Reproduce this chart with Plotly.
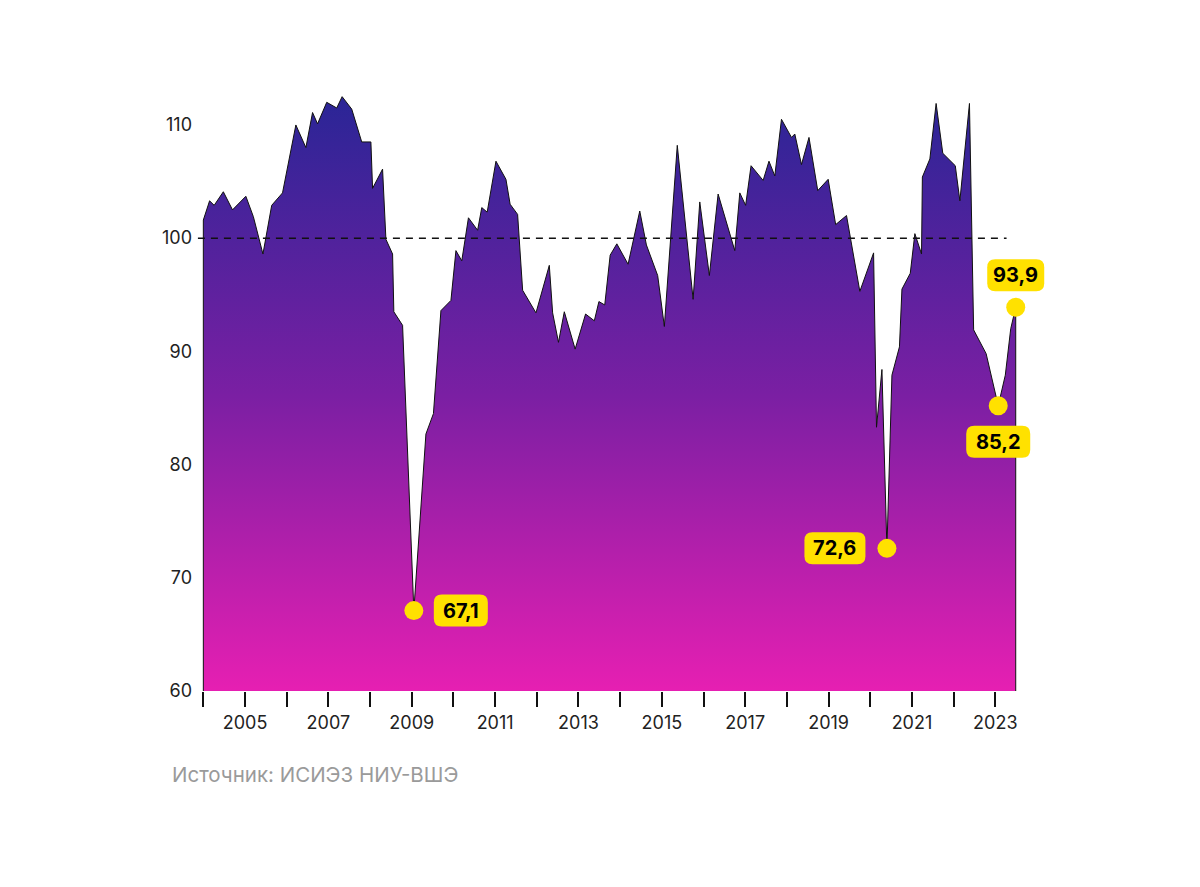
import plotly.graph_objects as go

# ---- data (decimal year, index value) ----
years = [2004.00, 2004.15, 2004.26, 2004.48, 2004.70, 2005.02, 2005.20, 2005.43, 2005.64, 2005.90,
         2006.22, 2006.46, 2006.62, 2006.74, 2006.96, 2007.20, 2007.33, 2007.56, 2007.80, 2008.02,
         2008.06, 2008.30, 2008.38, 2008.54, 2008.57, 2008.78, 2009.05, 2009.34, 2009.52, 2009.70,
         2009.94, 2010.06, 2010.20, 2010.36, 2010.58, 2010.68, 2010.81, 2011.02, 2011.26, 2011.36,
         2011.54, 2011.66, 2011.98, 2012.30, 2012.38, 2012.52, 2012.66, 2012.92, 2013.17, 2013.38,
         2013.49, 2013.63, 2013.76, 2013.92, 2014.19, 2014.47, 2014.63, 2014.90, 2015.06, 2015.37,
         2015.75, 2015.91, 2016.14, 2016.35, 2016.75, 2016.87, 2017.01, 2017.14, 2017.43, 2017.57,
         2017.71, 2017.87, 2018.11, 2018.19, 2018.35, 2018.53, 2018.74, 2018.99, 2019.17, 2019.43,
         2019.75, 2020.08, 2020.15, 2020.28, 2020.40, 2020.52, 2020.70, 2020.76, 2020.96, 2021.07,
         2021.23, 2021.25, 2021.43, 2021.58, 2021.74, 2022.04, 2022.15, 2022.38, 2022.48, 2022.78,
         2023.07, 2023.24, 2023.37, 2023.49]
values = [101.6, 103.3, 102.9, 104.1, 102.5, 103.7, 101.9, 98.6, 102.9, 104.0,
          110.0, 108.0, 111.1, 110.1, 112.0, 111.5, 112.5, 111.4, 108.5, 108.5,
          104.4, 106.1, 99.9, 98.6, 93.5, 92.3, 67.1, 82.7, 84.5, 93.6,
          94.5, 98.9, 98.0, 101.8, 100.7, 102.7, 102.3, 106.8, 105.2, 103.0,
          102.1, 95.4, 93.4, 97.6, 93.4, 90.8, 93.5, 90.2, 93.3, 92.7,
          94.4, 94.1, 98.5, 99.5, 97.7, 102.4, 99.4, 96.7, 92.2, 108.2,
          94.6, 103.2, 96.7, 103.9, 98.9, 104.0, 102.9, 106.4, 105.1, 106.8,
          105.5, 110.5, 108.9, 109.2, 106.5, 108.9, 104.2, 105.2, 101.2, 102.0,
          95.3, 98.7, 83.3, 88.4, 72.6, 87.9, 90.4, 95.5, 96.9, 100.4,
          98.6, 105.4, 107.0, 111.9, 107.5, 106.4, 103.3, 111.9, 91.9, 89.8,
          85.2, 87.9, 92.0, 93.9]

highlight_idx = [26, 84, 100, 103]
highlight_side = ["right", "left", "below", "above"]

tick_years = list(range(2004, 2024))
tick_labels = [str(y) if y % 2 == 1 else "" for y in tick_years]
y_ticks = [60, 70, 80, 90, 100, 110]
baseline_value = 100
source_text = "Источник: ИСИЭЗ НИУ-ВШЭ"

Y_MIN, Y_MAX = 60, 113
X_MIN, X_MAX = 2003.8, 2024.6
YELLOW = "#FFE100"

# layout geometry (figure pixels)
M_L, M_T = 187, 82.5
PLOT_W = (X_MAX - X_MIN) * 41.67
PLOT_H = 600.5
M_R = 1200 - M_L - PLOT_W
M_B = 887 - M_T - PLOT_H

fig = go.Figure()

# area polygon closed down to axis bottom
poly_x = [years[0]] + years + [years[-1]]
poly_y = [Y_MIN] + values + [Y_MIN]
fig.add_trace(go.Scatter(
    x=poly_x, y=poly_y, mode="lines", fill="toself",
    line=dict(color="#111111", width=1),
    fillgradient=dict(type="vertical", start=Y_MIN, stop=Y_MAX - 0.5,
                      colorscale=[[0, "#E61FB2"], [0.5, "#7A1FA3"], [1, "#2A2596"]]),
    hoverinfo="skip", showlegend=False))

# dashed reference line at 100
fig.add_shape(type="line", xref="x", yref="y", x0=2003.87, x1=2023.27,
              y0=baseline_value, y1=baseline_value,
              line=dict(color="#111111", width=1.5, dash="7px,6px"), layer="above")

hx = [years[i] for i in highlight_idx]
hy = [values[i] for i in highlight_idx]
fig.add_trace(go.Scatter(x=hx, y=hy, mode="markers",
                         marker=dict(size=19, color=YELLOW, line=dict(width=0)),
                         hoverinfo="skip", showlegend=False))


def rrect(cx, cy, w, h, r):
    x0, x1 = cx - w / 2, cx + w / 2
    y0, y1 = cy - h / 2, cy + h / 2
    return (f"M {x0 + r},{y0} L {x1 - r},{y0} Q {x1},{y0} {x1},{y0 + r} "
            f"L {x1},{y1 - r} Q {x1},{y1} {x1 - r},{y1} L {x0 + r},{y1} "
            f"Q {x0},{y1} {x0},{y1 - r} L {x0},{y0 + r} Q {x0},{y0} {x0 + r},{y0} Z")


offsets = {"right": (47, 0), "left": (-52, 0), "below": (0, -36), "above": (0, 32)}
widths = {"right": 54, "left": 61, "below": 64, "above": 57}
for x, y, side in zip(hx, hy, highlight_side):
    dx, dy = offsets[side]
    txt = f"{y:.1f}".replace(".", ",")
    fig.add_shape(type="path", xref="x", yref="y", xsizemode="pixel", ysizemode="pixel",
                  xanchor=x, yanchor=y, path=rrect(dx, dy, widths[side], 32, 8),
                  fillcolor=YELLOW, line=dict(width=0), layer="above")
    fig.add_annotation(x=x, y=y, xref="x", yref="y", text=f"<b>{txt}</b>", showarrow=False,
                       xshift=dx, yshift=dy,
                       font=dict(family="Inter", size=20, color="#000000", weight=800))

fig.add_annotation(x=(162 - M_L) / PLOT_W, y=(M_T + PLOT_H - 767) / PLOT_H,
                   xref="paper", yref="paper", text=source_text,
                   showarrow=False, xanchor="left", yanchor="middle",
                   font=dict(family="Inter", size=20.5, color="#9a9a9a"))

fig.update_layout(
    width=1200, height=887,
    margin=dict(l=M_L, r=M_R, t=M_T, b=M_B, autoexpand=False),
    paper_bgcolor="white", plot_bgcolor="white",
    font=dict(family="Inter", size=18, color="#222222"),
    xaxis=dict(range=[X_MIN, X_MAX], tickmode="array", tickvals=tick_years, ticktext=tick_labels,
               ticks="outside", ticklen=15, tickwidth=1.5, tickcolor="#111111",
               showgrid=False, zeroline=False, showline=False,
               tickfont=dict(family="Inter", size=18, color="#222222")),
    yaxis=dict(range=[Y_MIN, Y_MAX], tickmode="array", tickvals=y_ticks,
               ticks="", showgrid=False, zeroline=False, showline=False,
               ticklabelstandoff=2,
               tickfont=dict(family="Inter", size=18, color="#222222")),
)

fig.write_html("out.html")
